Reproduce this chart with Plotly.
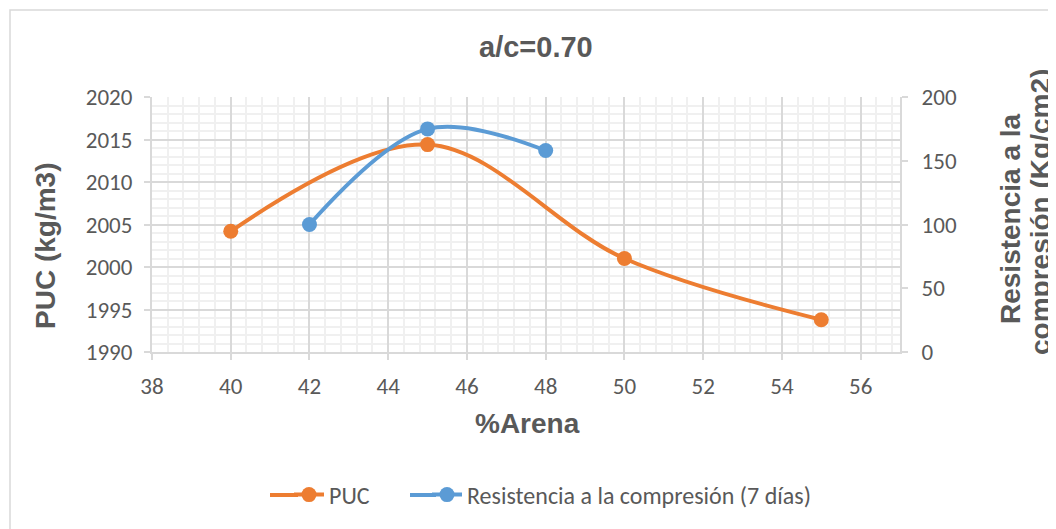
import plotly.graph_objects as go

# Data
arena_puc = [40, 45, 50, 55]
puc = [2004.2, 2014.4, 2001.0, 1993.8]
arena_res = [42, 45, 48]
resistencia = [100, 175, 158]

x_ticks = [38, 40, 42, 44, 46, 48, 50, 52, 54, 56]

ORANGE = "#ED7D31"
BLUE = "#5B9BD5"
TXT = "#595959"
BOLD = "Arial, Liberation Sans, sans-serif"
REG = "Calibri, Carlito, Lato, sans-serif"

OFF = 8  # page body margin
W, H = 1048, 521
L, T = 152 - OFF, 97 - OFF
R = W - (900 - OFF)
B = H - (352 - OFF)
pw, ph = W - L - R, H - T - B

def px(x):
    return (x - OFF - L) / pw

def py(y):
    return (H - B - (y - OFF)) / ph

fig = go.Figure()
fig.add_trace(go.Scatter(
    x=arena_puc, y=puc, name="PUC", mode="lines+markers",
    line=dict(color=ORANGE, width=4, shape="spline", smoothing=1),
    marker=dict(color=ORANGE, size=15), yaxis="y", legend="legend"))
fig.add_trace(go.Scatter(
    x=arena_res, y=resistencia, name="Resistencia a la compresión (7 días)",
    mode="lines+markers",
    line=dict(color=BLUE, width=4, shape="spline", smoothing=1),
    marker=dict(color=BLUE, size=15), yaxis="y2", legend="legend2"))

axis_common = dict(
    showline=True, linecolor="#d9d9d9", linewidth=2,
    ticks="outside", ticklen=6, tickcolor="#d9d9d9", tickwidth=2,
    tickfont=dict(family=REG, size=23, color=TXT),
    zeroline=False,
)

legend_common = dict(orientation="h", xanchor="left", yanchor="middle",
                     font=dict(family=REG, size=24, color=TXT),
                     bgcolor="rgba(0,0,0,0)")

LEG_Y = 495

fig.update_layout(
    width=W, height=H,
    margin=dict(l=L, r=R, t=T, b=B),
    paper_bgcolor="white", plot_bgcolor="white",
    showlegend=True,
    legend=dict(x=px(289), y=py(LEG_Y), **legend_common),
    legend2=dict(x=px(427), y=py(LEG_Y), **legend_common),
    xaxis=dict(range=[38, 57], tickvals=x_ticks, showgrid=True, gridcolor="#d9d9d9", gridwidth=2,
               minor=dict(dtick=0.4, tick0=38, showgrid=True, gridcolor="#f0f0f0", gridwidth=2, ticks=""),
               ticklabelstandoff=6, **axis_common),
    yaxis=dict(range=[1990, 2020], dtick=5, showgrid=True, gridcolor="#d9d9d9", gridwidth=2,
               minor=dict(dtick=1, showgrid=True, gridcolor="#f0f0f0", gridwidth=2, ticks=""),
               ticklabelstandoff=7, **axis_common),
    yaxis2=dict(range=[0, 200], dtick=50, overlaying="y", side="right", showgrid=False,
                ticklabelstandoff=9, **axis_common),
    shapes=[
        dict(type="rect", xref="paper", yref="paper",
             x0=px(10), x1=px(1070), y0=py(545), y1=py(10),
             line=dict(color="#d9d9d9", width=1.5), layer="below"),
        # extend the legend sample lines to Excel's longer length
        dict(type="line", xref="paper", yref="paper", x0=px(270), x1=px(298),
             y0=py(LEG_Y), y1=py(LEG_Y), line=dict(color=ORANGE, width=4)),
        dict(type="line", xref="paper", yref="paper", x0=px(410), x1=px(436),
             y0=py(LEG_Y), y1=py(LEG_Y), line=dict(color=BLUE, width=4)),
    ],
    annotations=[
        dict(text="<b>a/c=0.70</b>", xref="paper", yref="paper", x=px(536), y=py(47),
             showarrow=False, font=dict(family=BOLD, size=29, color=TXT),
             xanchor="center", yanchor="middle"),
        dict(text="<b>%Arena</b>", xref="paper", yref="paper", x=px(527), y=py(424),
             showarrow=False, font=dict(family=BOLD, size=28, color=TXT),
             xanchor="center", yanchor="middle"),
        dict(text="<b>PUC (kg/m3)</b>", xref="paper", yref="paper", x=px(46), y=py(246),
             showarrow=False, textangle=-90, font=dict(family=BOLD, size=28, color=TXT),
             xanchor="center", yanchor="middle"),
        dict(text="<b>Resistencia a la</b>", xref="paper", yref="paper",
             x=px(1010), y=py(218), showarrow=False, textangle=-90,
             font=dict(family=BOLD, size=28, color=TXT),
             xanchor="center", yanchor="middle"),
        dict(text="<b>compresión (Kg/cm2)</b>", xref="paper", yref="paper",
             x=px(1040), y=py(212), showarrow=False, textangle=-90,
             font=dict(family=BOLD, size=28, color=TXT),
             xanchor="center", yanchor="middle"),
    ],
)

fig.write_html("out.html")
